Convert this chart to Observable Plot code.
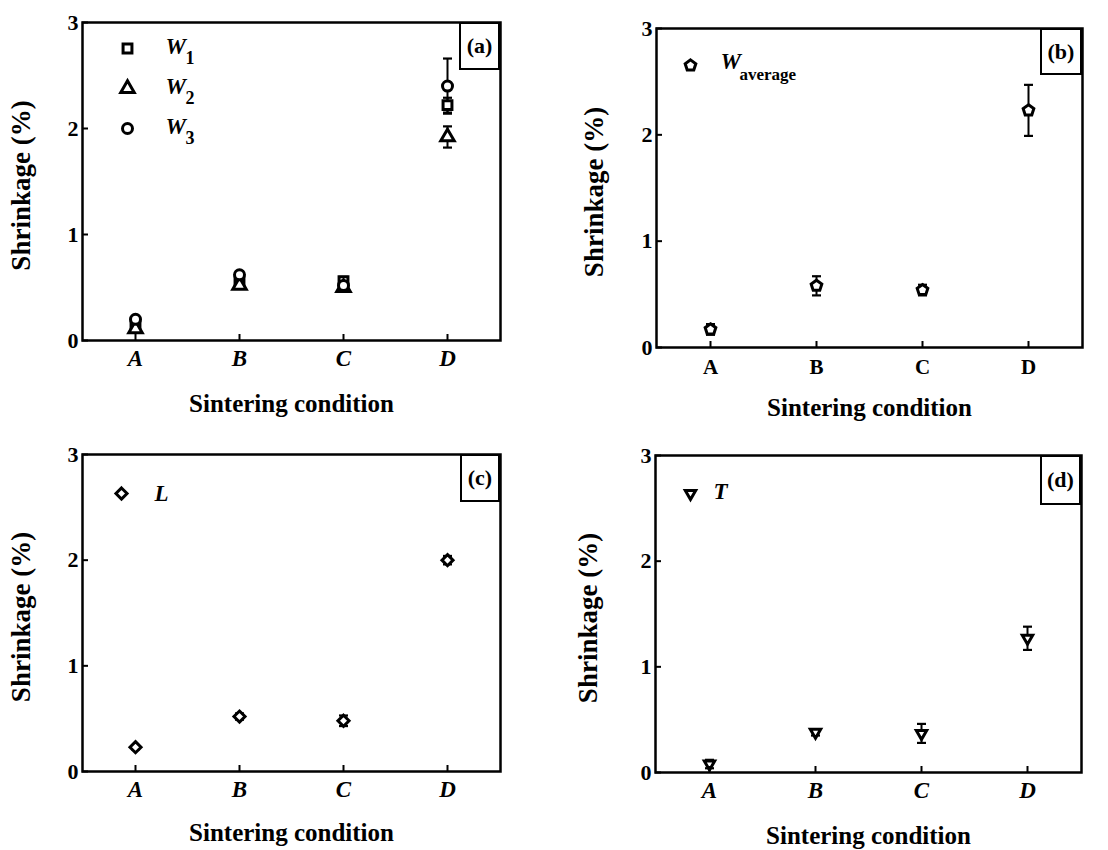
<!DOCTYPE html>
<html><head><meta charset="utf-8">
<script src="https://cdn.jsdelivr.net/npm/d3@7"></script>
<script src="https://cdn.jsdelivr.net/npm/@observablehq/plot@0.6"></script>
<style>
body{margin:0;background:#fff;}
#chart{position:relative;width:1108px;height:850px;background:#fff;}
.panel{position:absolute;width:554px;height:425px;}
.tag{position:absolute;box-sizing:border-box;border:2.5px solid #000;background:#fff;font:bold 22px "Liberation Serif",serif;display:flex;align-items:center;justify-content:center;color:#000;}
</style></head><body><div id="chart"></div>
<script>
const conditions = ["A", "B", "C", "D"];
const yTicks = [0, 1, 2, 3];
// (a) widths
const w1 = [0.15, 0.55, 0.56, 2.22];
const w1Err = [0.03, 0.03, 0.04, 0.07];
const w2 = [0.11, 0.52, 0.50, 1.92];
const w2Err = [0.03, 0.03, 0.03, 0.10];
const w3 = [0.20, 0.62, 0.52, 2.40];
const w3Err = [0.03, 0.03, 0.03, 0.26];
// (b) average width
const wAvg = [0.17, 0.58, 0.54, 2.23];
const wAvgErr = [0.05, 0.09, 0.05, 0.24];
// (c) length
const len = [0.23, 0.52, 0.48, 2.00];
const lenErr = [0.02, 0.03, 0.05, 0.04];
// (d) thickness
const thick = [0.08, 0.38, 0.37, 1.27];
const thickErr = [0.04, 0.03, 0.09, 0.11];

const yTitle = "Shrinkage (%)";
const xTitle = "Sintering condition";
const FONT = "Liberation Serif";

const pentagon = {draw(ctx, size) {
  const R = Math.sqrt(size / Math.PI) * 1.12;
  for (let k = 0; k < 5; k++) {
    const a = -Math.PI / 2 + k * 2 * Math.PI / 5;
    const px = R * Math.cos(a), py = R * Math.sin(a);
    k ? ctx.lineTo(px, py) : ctx.moveTo(px, py);
  }
  ctx.closePath();
}};
const triangleDown = {draw(ctx, size) {
  const R = Math.sqrt(size / Math.PI) * 1.2;
  ctx.moveTo(0, R);
  ctx.lineTo(-R * 0.866, -R * 0.5);
  ctx.lineTo(R * 0.866, -R * 0.5);
  ctx.closePath();
}};
const cap = {draw(ctx, size) {
  const w = Math.sqrt(size / Math.PI);
  ctx.moveTo(-w, 0); ctx.lineTo(w, 0);
}};

function rows(values, errs) {
  return conditions.map((c, i) => ({cond: c, v: values[i], e: errs[i]}));
}

function panel(cfg) {
  const {left, top, m, series, legend, tag, xItalic, xFont, xPad, yTitleDx, xTitleDy} = cfg;
  const marks = [];
  for (const s of series) {
    const data = rows(s.values, s.errs);
    marks.push(Plot.ruleX(data, {x: "cond", y1: d => d.v - d.e, y2: d => d.v + d.e, stroke: "black", strokeWidth: 2}));
    marks.push(Plot.dot(data, {x: "cond", y: d => d.v + d.e, symbol: cap, r: 4.5, fill: "none", stroke: "black", strokeWidth: 2.2}));
    marks.push(Plot.dot(data, {x: "cond", y: d => d.v - d.e, symbol: cap, r: 4.5, fill: "none", stroke: "black", strokeWidth: 2.2}));
  }
  for (const s of series) {
    const data = rows(s.values, s.errs);
    marks.push(Plot.dot(data, {x: "cond", y: "v", symbol: s.symbol, r: 5, fill: "white", stroke: "black", strokeWidth: 3}));
  }
  legend.forEach((L, i) => {
    marks.push(Plot.dot([L.name], {frameAnchor: "top-left", dx: L.sx, dy: L.sy + i * 40, symbol: L.symbol, r: 5, fill: "white", stroke: "black", strokeWidth: 3}));
    marks.push(Plot.text([L.name], {text: d => d, frameAnchor: "top-left", dx: L.tx, dy: L.ty + i * 40, textAnchor: "start", lineAnchor: "bottom", fontFamily: FONT, fontSize: 23, fontStyle: "italic", fontWeight: "bold", fill: "black"}));
    if (L.sub) marks.push(Plot.text([L.sub], {text: d => d, frameAnchor: "top-left", dx: L.subx, dy: L.ty + L.subdy + i * 40, textAnchor: "start", lineAnchor: "bottom", fontFamily: FONT, fontSize: L.subSize, fontWeight: "bold", fill: "black"}));
  });
  marks.push(Plot.axisY({ticks: yTicks, tickFormat: d => String(d), tickSize: -6, tickPadding: 10, strokeWidth: 2, fontFamily: FONT, fontSize: 22, fontWeight: "bold", label: null}));
  marks.push(Plot.axisX({tickSize: -6, tickPadding: xPad, strokeWidth: 2, fontFamily: FONT, fontSize: xFont, fontWeight: "bold", fontStyle: xItalic ? "italic" : "normal", label: null}));
  marks.push(Plot.frame({stroke: "black", strokeWidth: 2.5}));
  marks.push(Plot.text([yTitle], {text: d => d, frameAnchor: "left", textAnchor: "middle", lineAnchor: "middle", dx: yTitleDx, dy: 4, rotate: -90, fontFamily: FONT, fontSize: 27, fontWeight: "bold", fill: "black"}));
  marks.push(Plot.text([xTitle], {text: d => d, frameAnchor: "bottom", textAnchor: "middle", lineAnchor: "bottom", dy: xTitleDy, fontFamily: FONT, fontSize: 25, fontWeight: "bold", fill: "black"}));

  const svg = Plot.plot({
    width: 554, height: 425,
    marginLeft: m[0], marginRight: m[1], marginTop: m[2], marginBottom: m[3],
    x: {type: "point", domain: conditions, padding: 0.5},
    y: {domain: [0, 3]},
    style: {fontFamily: FONT, background: "white", color: "black", overflow: "visible"},
    marks
  });
  const div = document.createElement("div");
  div.className = "panel";
  div.style.left = left + "px"; div.style.top = top + "px";
  div.appendChild(svg);
  const t = document.createElement("div");
  t.className = "tag";
  t.textContent = tag.text;
  t.style.right = m[1] + "px"; t.style.top = m[2] + "px";
  t.style.width = tag.w + "px"; t.style.height = tag.h + "px";
  div.appendChild(t);
  document.getElementById("chart").appendChild(div);
}

panel({
  left: 0, top: 0, m: [82, 54, 22, 85],
  series: [
    {values: w1, errs: w1Err, symbol: "square"},
    {values: w2, errs: w2Err, symbol: "triangle"},
    {values: w3, errs: w3Err, symbol: "circle"}
  ],
  legend: [
    {name: "W", sub: "1", symbol: "square", sx: 45, sy: 26, tx: 83, ty: 31, subx: 103, subdy: 10, subSize: 18},
    {name: "W", sub: "2", symbol: "triangle", sx: 45, sy: 26, tx: 83, ty: 31, subx: 103, subdy: 10, subSize: 18},
    {name: "W", sub: "3", symbol: "circle", sx: 45, sy: 26, tx: 83, ty: 31, subx: 103, subdy: 10, subSize: 18}
  ],
  tag: {text: "(a)", w: 41, h: 48},
  xItalic: true, xFont: 23, xPad: 15, yTitleDx: -61, xTitleDy: 71
});
panel({
  left: 554, top: 0, m: [102, 26, 28, 78],
  series: [{values: wAvg, errs: wAvgErr, symbol: pentagon}],
  legend: [
    {name: "W", sub: "average", symbol: pentagon, sx: 34, sy: 37, tx: 64, ty: 40, subx: 83, subdy: 11, subSize: 17}
  ],
  tag: {text: "(b)", w: 42, h: 47},
  xItalic: false, xFont: 21, xPad: 18, yTitleDx: -62, xTitleDy: 68
});
panel({
  left: 0, top: 425, m: [82, 54, 29, 79],
  series: [{values: len, errs: lenErr, symbol: "diamond2"}],
  legend: [
    {name: "L", sub: null, symbol: "diamond2", sx: 39, sy: 39, tx: 72, ty: 46}
  ],
  tag: {text: "(c)", w: 40, h: 48},
  xItalic: true, xFont: 23, xPad: 15, yTitleDx: -61, xTitleDy: 69
});
panel({
  left: 554, top: 425, m: [101, 27, 30, 78],
  series: [{values: thick, errs: thickErr, symbol: triangleDown}],
  legend: [
    {name: "T", sub: null, symbol: triangleDown, sx: 35, sy: 38, tx: 58, ty: 43}
  ],
  tag: {text: "(d)", w: 41, h: 50},
  xItalic: true, xFont: 23, xPad: 15, yTitleDx: -67, xTitleDy: 71
});
</script></body></html>
